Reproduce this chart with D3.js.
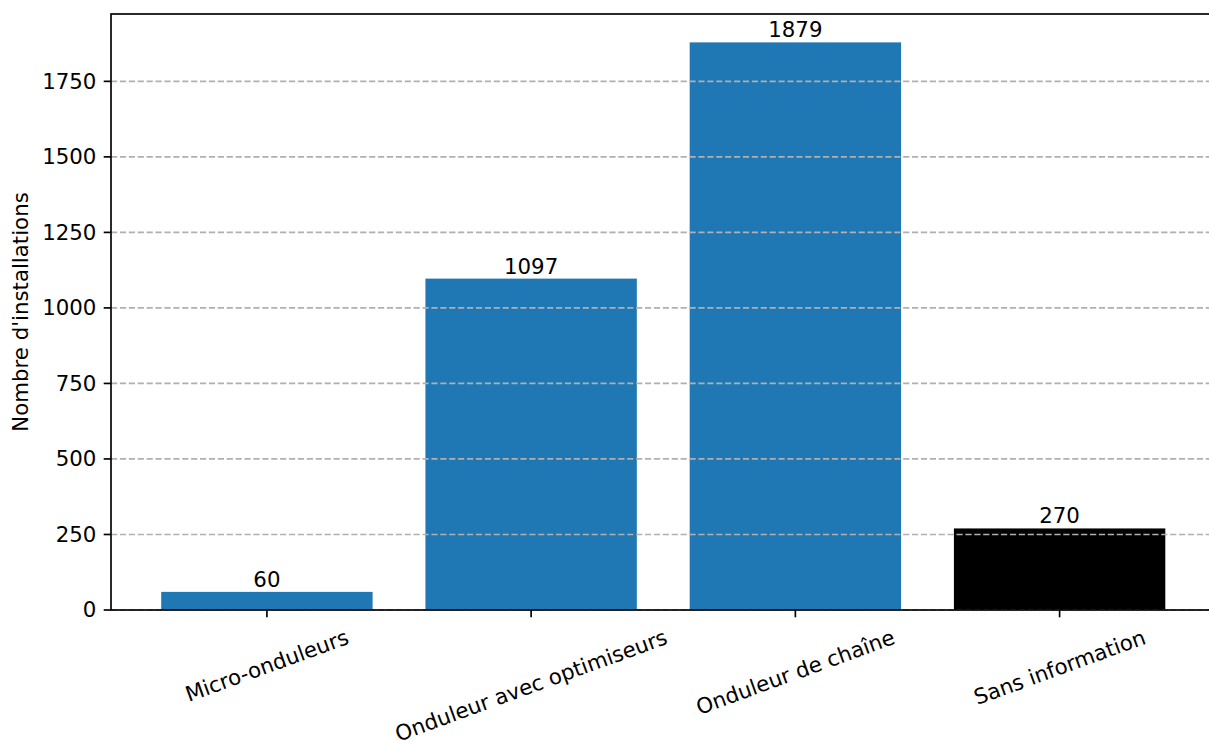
<!DOCTYPE html>
<html>
<head>
<meta charset="utf-8">
<script src="https://cdn.jsdelivr.net/npm/d3@7"></script>
<style>
  html, body { margin: 0; padding: 0; background: #fff; overflow: hidden; }
  svg { display: block; font-family: "DejaVu Sans", sans-serif; }
</style>
</head>
<body>
<svg id="chart" width="1209" height="740"></svg>
<script>
const categories = ["Micro-onduleurs", "Onduleur avec optimiseurs", "Onduleur de chaîne", "Sans information"];
const values = [60, 1097, 1879, 270];
const barColors = ["#1f77b4", "#1f77b4", "#1f77b4", "#000000"];
const yTicks = [0, 250, 500, 750, 1000, 1250, 1500, 1750];
const yLabel = "Nombre d'installations";

(function () {
const mLeft = 111, mTop = 14, mBottom = 610, mRight = 1215.5;
const fontSize = 21.3;
const lw = 1.67;

const svg = d3.select("#chart");

const x = d3.scaleLinear().domain([-0.59, categories.length - 1 + 0.59]).range([mLeft, mRight]);
const y = d3.scaleLinear().domain([0, d3.max(values) * 1.05]).range([mBottom, mTop]);
const barW = x(0.4) - x(-0.4);

// bars
svg.append("g").selectAll("rect").data(values).join("rect")
  .attr("x", (d, i) => x(i) - barW / 2)
  .attr("width", barW)
  .attr("y", d => y(d))
  .attr("height", d => y(0) - y(d))
  .attr("fill", (d, i) => barColors[i]);

// grid (above bars, below spines)
svg.append("g").selectAll("line").data(yTicks).join("line")
  .attr("x1", mLeft).attr("x2", mRight)
  .attr("y1", d => y(d)).attr("y2", d => y(d))
  .attr("stroke", "#b0b0b0")
  .attr("stroke-width", lw)
  .attr("stroke-dasharray", "6.2,2.7");

// bar labels
svg.append("g").selectAll("text").data(values).join("text")
  .attr("x", (d, i) => x(i))
  .attr("y", d => y(d) - 0.236 * fontSize)
  .attr("text-anchor", "middle")
  .attr("font-size", fontSize)
  .attr("fill", "#000")
  .text(d => d);

// y axis ticks + labels
const yg = svg.append("g");
yg.selectAll("line").data(yTicks).join("line")
  .attr("x1", mLeft - 7.3).attr("x2", mLeft)
  .attr("y1", d => y(d)).attr("y2", d => y(d))
  .attr("stroke", "#000").attr("stroke-width", lw);
yg.selectAll("text").data(yTicks).join("text")
  .attr("x", mLeft - 14.6)
  .attr("y", d => y(d))
  .attr("dy", "0.35em")
  .attr("text-anchor", "end")
  .attr("font-size", fontSize)
  .text(d => d);

// x axis ticks + rotated labels
const xg = svg.append("g");
xg.selectAll("line").data(categories).join("line")
  .attr("x1", (d, i) => x(i)).attr("x2", (d, i) => x(i))
  .attr("y1", mBottom).attr("y2", mBottom + 7.3)
  .attr("stroke", "#000").attr("stroke-width", lw);
const ang = 20 * Math.PI / 180;
const txtH = 1.164 * fontSize;
xg.selectAll("text").data(categories).join("text")
  .attr("font-size", fontSize)
  .attr("text-anchor", "middle")
  .attr("dy", "0.35em")
  .text(d => d)
  .each(function (d, i) {
    const tw = this.getComputedTextLength();
    const bh = tw * Math.sin(ang) + txtH * Math.cos(ang);
    const cy = mBottom + 7.3 + 7.3 + bh / 2;
    d3.select(this).attr("transform", `translate(${x(i)},${cy}) rotate(-20)`);
  });

// y label
svg.append("text")
  .attr("transform", `translate(28,${(mTop + mBottom) / 2}) rotate(-90)`)
  .attr("text-anchor", "middle")
  .attr("font-size", fontSize)
  .text(yLabel);

// spines
svg.append("rect")
  .attr("x", mLeft).attr("y", mTop)
  .attr("width", mRight - mLeft).attr("height", mBottom - mTop)
  .attr("fill", "none").attr("stroke", "#000").attr("stroke-width", lw);
})();
</script>
</body>
</html>
